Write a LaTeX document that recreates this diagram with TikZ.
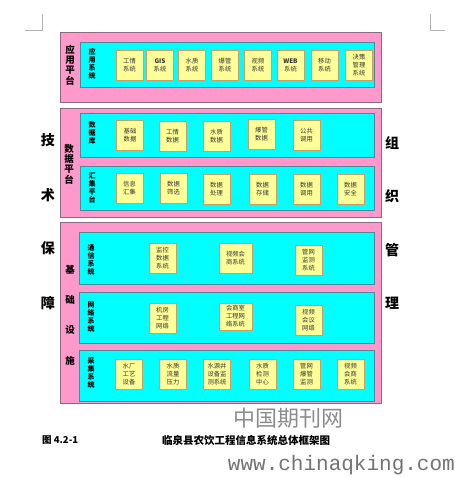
\documentclass[tikz,border=0pt]{standalone}
\usepackage{fontspec}
\usepackage{tikz,xcolor}
\newfontfamily\cjk{Noto Sans CJK SC}
\newfontfamily\wmono{Liberation Mono}
\definecolor{pinkfill}{HTML}{FF99CC}
\definecolor{pinkline}{HTML}{8C6A80}
\definecolor{cyanfill}{HTML}{00FFFF}
\definecolor{cyanline}{HTML}{4D8A99}
\definecolor{yelfill}{HTML}{FFFF99}
\definecolor{yelline}{HTML}{C8A064}
\tikzset{
  pinkbox/.style={fill=pinkfill,draw=pinkline,line width=0.8pt},
  cyanbox/.style={fill=cyanfill,draw=cyanline,line width=0.8pt},
  sysbox/.style={fill=yelfill,draw=yelline,line width=0.8pt,inner sep=0pt,
    minimum width=27pt,minimum height=30pt,align=center,text=black!80,
    font=\cjk\fontsize{6.3}{8}\selectfont},
  platlabel/.style={inner sep=0pt,align=center,font=\cjk\bfseries\fontsize{9.5}{10.4}\selectfont},
  sublabel/.style={inner sep=0pt,align=center,font=\cjk\bfseries\fontsize{7}{8}\selectfont},
  sidelabel/.style={inner sep=0pt,font=\cjk\bfseries\fontsize{14}{14}\selectfont},
  captext/.style={inner sep=0pt,font=\cjk\bfseries\fontsize{10.5}{12}\selectfont},
  cropmark/.style={draw=black!30,line width=0.6pt}
}
\begin{document}
\begin{tikzpicture}[x=1pt,y=-1pt]
\useasboundingbox (0,0) rectangle (455,477);
\fill[white] (0,0) rectangle (455,477);
% page corner marks
\draw[cropmark] (25,30) -- (42,30) -- (42,14);
\draw[cropmark] (430,14) -- (430,30) -- (445,30);
% application platform
\draw[pinkbox] (60,32) rectangle (381,102);
\draw[cyanbox] (80,42) rectangle (374,87);
\node[platlabel] (yypt) at (70,65) {应\\用\\平\\台};
\node[sublabel] (yyxt) at (92,64) {应\\用\\系\\统};
\node[sysbox] (app1) at (129.5,65) {工情\\系统};
\node[sysbox] (app2) at (160,65) {\textbf{GIS}\\系统};
\node[sysbox] (app3) at (192,65) {水质\\系统};
\node[sysbox] (app4) at (225,65) {爆管\\系统};
\node[sysbox] (app5) at (258,65) {视频\\系统};
\node[sysbox] (app6) at (290.5,65) {\textbf{WEB}\\系统};
\node[sysbox] (app7) at (324.5,65) {移动\\系统};
\node[sysbox] (app8) at (359,65) {决策\\管理\\系统};
% data platform
\draw[pinkbox] (60,108) rectangle (381,217);
\draw[cyanbox] (80,113) rectangle (374,157);
\draw[cyanbox] (80,166) rectangle (374,210);
\node[platlabel] (sjpt) at (69,164) {数\\据\\平\\台};
\node[sublabel] (sjk) at (92,133) {数\\据\\库};
\node[sublabel] (hjpt) at (92,188) {汇\\集\\平\\台};
\node[sysbox] (db1) at (130,135) {基础\\数据};
\node[sysbox] (db2) at (172.5,136) {工情\\数据};
\node[sysbox] (db3) at (216.5,136) {水质\\数据};
\node[sysbox] (db4) at (261.5,134) {爆管\\数据};
\node[sysbox] (db5) at (306.5,135) {公共\\调用};
\node[sysbox] (hj1) at (129.5,188) {信息\\汇集};
\node[sysbox] (hj2) at (173.5,188) {数据\\筛选};
\node[sysbox] (hj3) at (216.5,189) {数据\\处理};
\node[sysbox] (hj4) at (262.5,189) {数据\\存储};
\node[sysbox] (hj5) at (306.5,189) {数据\\调用};
\node[sysbox] (hj6) at (350.5,189) {数据\\安全};
% infrastructure
\draw[pinkbox] (60,222) rectangle (381,403);
\draw[cyanbox] (79,232) rectangle (374,284);
\draw[cyanbox] (79,292) rectangle (374,343);
\draw[cyanbox] (79,350) rectangle (374,401);
\node[platlabel] (ji) at (70,270) {基};
\node[platlabel] (chu) at (70,300) {础};
\node[platlabel] (she) at (70,330) {设};
\node[platlabel] (shi) at (70,361) {施};
\node[sublabel] (txxt) at (91,260) {通\\信\\系\\统};
\node[sublabel] (wlxt) at (91,317) {网\\络\\系\\统};
\node[sublabel] (cjxt) at (91,373) {采\\集\\系\\统};
\node[sysbox] (tx1) at (162.5,258.5) {监控\\数据\\系统};
\node[sysbox,minimum width=33pt] (tx2) at (235.5,258) {视频会\\商系统};
\node[sysbox] (tx3) at (308.5,260) {管网\\监测\\系统};
\node[sysbox] (wl1) at (162.5,318) {机房\\工程\\网络};
\node[sysbox,minimum width=33pt,minimum height=27pt] (wl2) at (235.5,316.5) {会商室\\工程网\\络系统};
\node[sysbox] (wl3) at (308.5,320) {视频\\会议\\网络};
\node[sysbox] (cj1) at (129,374) {水厂\\工艺\\设备};
\node[sysbox] (cj2) at (173,374) {水质\\流量\\压力};
\node[sysbox] (cj3) at (217,374) {水源井\\设备监\\测系统};
\node[sysbox] (cj4) at (262.5,374) {水质\\检测\\中心};
\node[sysbox] (cj5) at (306.5,374) {管网\\爆管\\监测};
\node[sysbox] (cj6) at (350.5,374) {视频\\会商\\系统};
% side labels
\node[sidelabel] (ji1) at (48,140) {技};
\node[sidelabel] (shu1) at (48,195) {术};
\node[sidelabel] (bao1) at (48,248) {保};
\node[sidelabel] (zhang1) at (48,303) {障};
\node[sidelabel] (zu1) at (392,143) {组};
\node[sidelabel] (zhi1) at (392,196) {织};
\node[sidelabel] (guan1) at (392,250) {管};
\node[sidelabel] (li1) at (392,303) {理};
% caption and watermark
\node[text=black!45,inner sep=0pt,font=\cjk\fontsize{22}{22}\selectfont] (wm1) at (288,418) {中国期刊网};
\node[captext,anchor=west,font=\cjk\bfseries\fontsize{9.5}{12}\selectfont] (fig) at (42,440) {图 4.2-1};
\node[captext] (title) at (246,440) {临泉县农饮工程信息系统总体框架图};
\node[text=black!55,inner sep=0pt,anchor=east,font=\wmono\fontsize{21}{21}\selectfont] (wm2) at (455,465) {www.chinaqking.com};
\end{tikzpicture}
\end{document}
